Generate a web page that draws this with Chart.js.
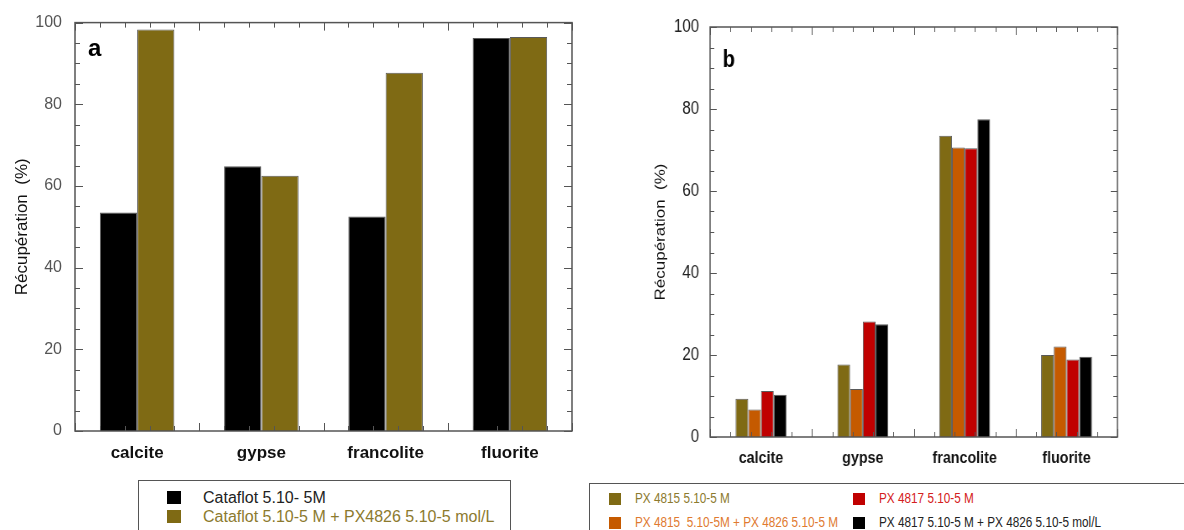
<!DOCTYPE html>
<html>
<head>
<meta charset="utf-8">
<script src="https://cdn.jsdelivr.net/npm/chart.js@4"></script>
<style>
  body { margin: 0; background: #fff; width: 1184px; height: 530px; overflow: hidden; position: relative; }
  canvas { position: absolute; }
  #chartA { left: 0; top: 0; }
  /* panel b is squeezed horizontally in the original figure */
  #chartB { left: 600px; top: 0; transform: scaleX(0.84); transform-origin: 0 0; }
  .legend { position: absolute; background: #fff; border: 1.5px solid #555; box-sizing: border-box; }
  .legend .item { position: absolute; white-space: nowrap; }
  .legend .sq { position: absolute; }
  #legA { left: 138px; top: 480px; width: 373px; height: 60px; font: 16px "Liberation Sans", Arial, sans-serif; }
  #legB { left: 589px; top: 483px; width: 620px; height: 60px; font: 14px "Liberation Sans", Arial, sans-serif; }
  #legB .item { transform: scaleX(0.84); transform-origin: 0 0; }
</style>
</head>
<body>
<canvas id="chartA" width="590" height="478"></canvas>
<canvas id="chartB" width="695" height="480"></canvas>

<div class="legend" id="legA">
  <div class="sq" style="left:28px;top:10px;width:14px;height:13px;background:#000"></div>
  <div class="item" style="left:64px;top:8px;color:#222">Cataflot 5.10- 5M</div>
  <div class="sq" style="left:28px;top:29px;width:14px;height:13px;background:#7f6a14"></div>
  <div class="item" style="left:64px;top:27px;color:#8c7a2e">Cataflot 5.10-5 M + PX4826 5.10-5 mol/L</div>
</div>

<div class="legend" id="legB">
  <div class="sq" style="left:19px;top:9px;width:12px;height:12px;background:#7f6a14"></div>
  <div class="item" style="left:45px;top:6px;color:#8c7a2e">PX 4815 5.10-5 M</div>
  <div class="sq" style="left:263px;top:9px;width:12px;height:12px;background:#c00000"></div>
  <div class="item" style="left:289px;top:6px;color:#d42020">PX 4817 5.10-5 M</div>
  <div class="sq" style="left:19px;top:33px;width:12px;height:12px;background:#c55a00"></div>
  <div class="item" style="left:45px;top:30px;color:#e07a30">PX 4815&nbsp; 5.10-5M + PX 4826 5.10-5 M</div>
  <div class="sq" style="left:263px;top:33px;width:12px;height:12px;background:#000"></div>
  <div class="item" style="left:289px;top:30px;color:#222">PX 4817 5.10-5 M + PX 4826 5.10-5 mol/L</div>
</div>

<script>
// data
const minerals = ['calcite', 'gypse', 'francolite', 'fluorite'];
const yTicks = [0, 20, 40, 60, 80, 100];

// panel a
const cataflot = [53.5, 64.8, 52.5, 96.2];
const cataflotPx4826 = [98.3, 62.5, 87.7, 96.5];

// panel b
const px4815 = [9.3, 17.7, 73.5, 20.0];
const px4815Px4826 = [6.7, 11.7, 70.6, 22.1];
const px4817 = [11.2, 28.2, 70.4, 18.9];
const px4817Px4826 = [10.3, 27.5, 77.5, 19.6];

const OLIVE = '#7f6a14', ORANGE = '#c55a00', RED = '#c00000', BLACK = '#000';

// frame + inward ticks on every side, plus panel letter
const frameTicks = {
  id: 'frameTicks',
  afterDraw(chart, args, opts) {
    const {ctx, chartArea: a, scales: {x, y}} = chart;
    ctx.save();
    ctx.strokeStyle = '#555';
    ctx.lineWidth = 1;
    ctx.beginPath();
    for (let v = 0; v <= 100; v += 5) {
      const py = Math.round(y.getPixelForValue(v)) + 0.5;
      const len = v % 20 === 0 ? 8 : 5;
      ctx.moveTo(a.left, py); ctx.lineTo(a.left + len, py);
      ctx.moveTo(a.right, py); ctx.lineTo(a.right - len, py);
    }
    const n = minerals.length * 5;
    for (let i = 0; i <= n; i++) {
      const px = Math.round(x.getPixelForValue(-0.5 + i / 5)) + 0.5;
      const len = i % 5 === 0 ? 8 : 5;
      ctx.moveTo(px, a.top); ctx.lineTo(px, a.top + len);
      ctx.moveTo(px, a.bottom); ctx.lineTo(px, a.bottom - len);
    }
    ctx.stroke();
    ctx.lineWidth = 1.5;
    ctx.strokeRect(a.left, a.top, a.right - a.left, a.bottom - a.top);
    ctx.fillStyle = '#000';
    ctx.font = 'bold 24px "Liberation Sans", Arial, sans-serif';
    ctx.fillText(opts.letter, a.left + opts.dx, a.top + opts.dy);
    ctx.restore();
  }
};

function ds(label, data, color) {
  return {label: label, data: data, backgroundColor: color, borderColor: 'rgba(0,0,0,0.65)', borderWidth: 1};
}

// Panel a
const chartA = new Chart(document.getElementById('chartA'), {
  type: 'bar',
  data: {
    labels: minerals,
    datasets: [
      ds('Cataflot 5.10- 5M', cataflot, BLACK),
      ds('Cataflot 5.10-5 M + PX4826 5.10-5 mol/L', cataflotPx4826, OLIVE)
    ]
  },
  options: {
    responsive: false,
    animation: false,
    categoryPercentage: 0.6,
    barPercentage: 1,
    layout: {padding: {top: 19.5, right: 18, left: 0, bottom: 0}},
    plugins: {legend: {display: false}, tooltip: {enabled: false},
      frameTicks: {letter: 'a', dx: 13, dy: 33}},
    scales: {
      x: {
        grid: {display: false, drawTicks: false}, border: {display: false},
        ticks: {color: '#111', padding: 12, font: {family: '"Liberation Sans", Arial, sans-serif', size: 17, weight: 'bold'}},
        afterFit: s => { s.height = 47; }
      },
      y: {
        min: 0, max: 100,
        afterBuildTicks: s => { s.ticks = yTicks.map(v => ({value: v})); },
        grid: {display: false, drawTicks: false}, border: {display: false},
        ticks: {color: '#555', padding: 13, font: {family: '"Liberation Sans", Arial, sans-serif', size: 16}},
        title: {display: true, text: 'Récupération  (%)', color: '#111', padding: {top: 12, bottom: 0},
          font: {family: '"Liberation Sans", Arial, sans-serif', size: 17}},
        afterFit: s => { s.width = 75; }
      }
    }
  },
  plugins: [frameTicks]
});

// Panel b (canvas drawn 695 wide, shown at 0.84 width)
const chartB = new Chart(document.getElementById('chartB'), {
  type: 'bar',
  data: {
    labels: minerals,
    datasets: [
      ds('PX 4815 5.10-5 M', px4815, OLIVE),
      ds('PX 4815  5.10-5M + PX 4826 5.10-5 M', px4815Px4826, ORANGE),
      ds('PX 4817 5.10-5 M', px4817, RED),
      ds('PX 4817 5.10-5 M + PX 4826 5.10-5 mol/L', px4817Px4826, BLACK)
    ]
  },
  options: {
    responsive: false,
    animation: false,
    categoryPercentage: 0.5,
    barPercentage: 1,
    layout: {padding: {top: 27, right: 79, left: 0, bottom: 0}},
    plugins: {legend: {display: false}, tooltip: {enabled: false},
      frameTicks: {letter: 'b', dx: 15, dy: 40}},
    scales: {
      x: {
        grid: {display: false, drawTicks: false}, border: {display: false},
        ticks: {color: '#111', padding: 11, font: {family: '"Liberation Sans", Arial, sans-serif', size: 17, weight: 'bold'}},
        afterFit: s => { s.height = 43; }
      },
      y: {
        min: 0, max: 100,
        afterBuildTicks: s => { s.ticks = yTicks.map(v => ({value: v})); },
        grid: {display: false, drawTicks: false}, border: {display: false},
        ticks: {color: '#222', padding: 13, font: {family: '"Liberation Sans", Arial, sans-serif', size: 18}},
        title: {display: true, text: 'Récupération  (%)', color: '#111', padding: {top: 62, bottom: 0},
          font: {family: '"Liberation Sans", Arial, sans-serif', size: 17}},
        afterFit: s => { s.width = 131; }
      }
    }
  },
  plugins: [frameTicks]
});
</script>
</body>
</html>
